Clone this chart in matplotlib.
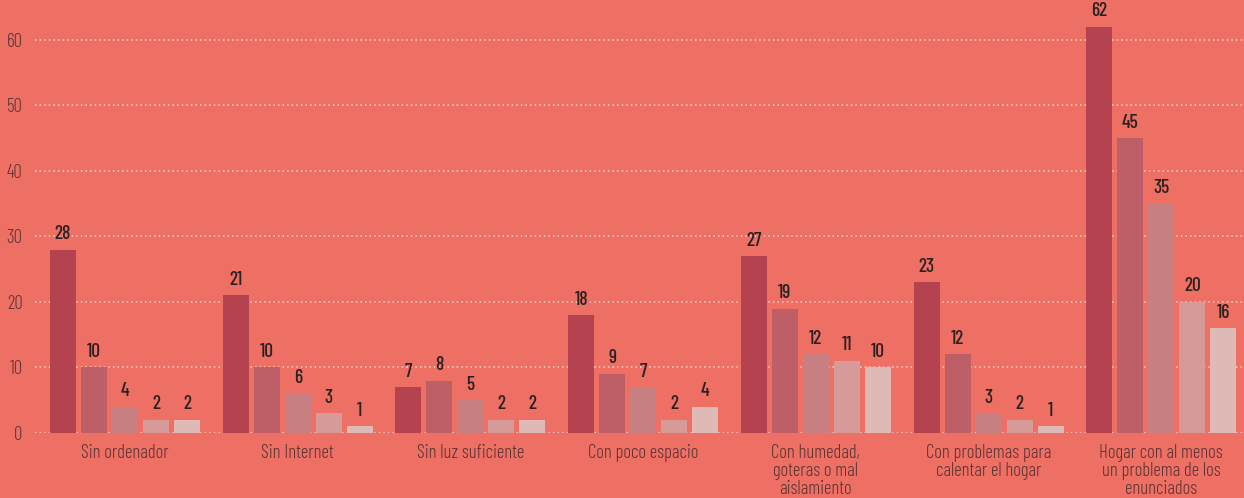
import numpy as np
import matplotlib
matplotlib.use('Agg')
import matplotlib.pyplot as plt

# Datos
categorias = [
    'Sin ordenador',
    'Sin Internet',
    'Sin luz suficiente',
    'Con poco espacio',
    'Con humedad,\ngoteras o mal\naislamiento',
    'Con problemas para\ncalentar el hogar',
    'Hogar con al menos\nun problema de los\nenunciados',
]
serie1 = [28, 21, 7, 18, 27, 23, 62]
serie2 = [10, 10, 8, 9, 19, 12, 45]
serie3 = [4, 6, 5, 7, 12, 3, 35]
serie4 = [2, 3, 2, 2, 11, 2, 20]
serie5 = [2, 1, 2, 4, 10, 1, 16]
yticks = [0, 10, 20, 30, 40, 50, 60]

series = [serie1, serie2, serie3, serie4, serie5]
colores = ['#B4434F', '#BE5F67', '#C87F82', '#D69B99', '#DFB9B6']
fondo = '#EE6F63'
texto = '#5C3434'

plt.rcParams['font.family'] = ['Barlow Condensed', 'DejaVu Sans']

fig = plt.figure(figsize=(12.44, 4.98), dpi=100, facecolor=fondo)
ax = fig.add_axes([35 / 1244, 65 / 498, 1209 / 1244, 433 / 498])
ax.set_facecolor(fondo)

x = np.arange(len(categorias))
ancho = 0.1505
paso = 0.1795
for i, (vals, c) in enumerate(zip(series, colores)):
    pos = x + (i - 2) * paso
    ax.bar(pos, vals, width=ancho, color=c, zorder=3)
    for p, v in zip(pos, vals):
        ax.text(p, v + 1.0, str(v), ha='center', va='bottom',
                fontsize=14, fontweight=500, color='#2A2222', zorder=4)

ax.set_xlim(-0.521, 6.479)
ax.set_ylim(0, 66.1)
ax.set_yticks(yticks)
ax.set_xticks(x)
ax.set_xticklabels(categorias, fontsize=13.5, fontweight=300, color=texto,
                   linespacing=1.0, va='top')
ax.tick_params(axis='both', length=0, colors=texto)
ax.tick_params(axis='x', pad=8)
ax.tick_params(axis='y', pad=9)
for lbl in ax.get_yticklabels():
    lbl.set_color(texto)
    lbl.set_fontsize(13.5)
    lbl.set_fontweight(300)

ax.yaxis.grid(True, linestyle=(0, (1, 2)), color='#F8D2CC', linewidth=1.1, zorder=0)
ax.xaxis.grid(False)
for s in ax.spines.values():
    s.set_visible(False)

fig.savefig('out.png', dpi=100, facecolor=fondo)
